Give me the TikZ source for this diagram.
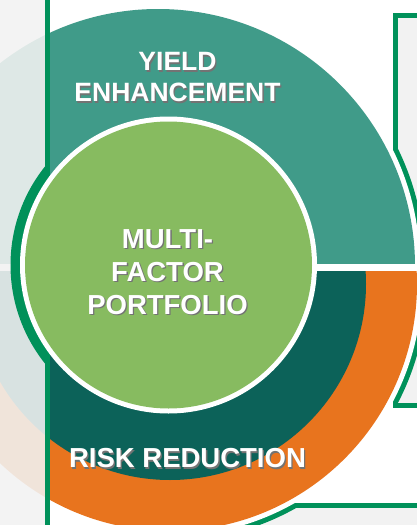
\documentclass[tikz,border=0pt]{standalone}
\usepackage{fontspec}
\setmainfont{Liberation Sans}
\definecolor{yieldcolor}{RGB}{64,155,137}
\definecolor{riskcolor}{RGB}{12,98,89}
\definecolor{hedgecolor}{RGB}{232,116,30}
\definecolor{corecolor}{RGB}{135,187,96}
\definecolor{framecolor}{RGB}{0,145,90}
\definecolor{panelcolor}{RGB}{242,242,242}
\tikzset{
    % Labels
    ringlabel/.style={
        font=\fontsize{26.5}{31}\selectfont\bfseries,
        text=white, align=center, inner sep=0pt
    },
    corelabel/.style={ringlabel, font=\fontsize{27.5}{33}\selectfont\bfseries},
    shadowlabel/.style={text=black!55},
    % Panels
    panel/.style={fill=panelcolor, draw=framecolor, line width=5pt},
    frameline/.style={draw=framecolor, line width=5pt},
}

\begin{document}
\begin{tikzpicture}[x=1pt, y=-1pt]
\useasboundingbox (0,0) rectangle (417,525);
\fill[white] (0,0) rectangle (417,525);

% Side panels
\draw[panel] (395.5,15.5) rectangle (440,405.5);
\draw[panel] (200,505.5) rectangle (440,545);

% Cut-outs round the rings
\begin{scope}
    \clip (395.5,15.5) rectangle (440,266);
    \fill[framecolor] (158,266) circle[radius=267pt];
\end{scope}
\begin{scope}
    \clip (395.5,266) rectangle (440,405.5) (200,505.5) rectangle (440,545);
    \fill[framecolor] (170,284) circle[radius=257pt];
\end{scope}
\begin{scope}
    \clip (0,0) rectangle (440,266);
    \fill[white] (158,266) circle[radius=262pt];
\end{scope}
\begin{scope}
    \clip (0,266) rectangle (440,545);
    \fill[white] (170,284) circle[radius=252pt];
\end{scope}

% Yield ring (upper half)
\begin{scope}
    \clip (0,0) rectangle (440,263);
    \fill[yieldcolor] (158,266) circle[radius=257pt];
\end{scope}

% Risk rings (lower half)
\begin{scope}
    \clip (0,271.5) rectangle (440,545);
    \fill[hedgecolor] (170,284) circle[radius=247pt];
    \fill[riskcolor] (170,284) circle[radius=196pt];
\end{scope}

% Faded left panel
\fill[panelcolor, opacity=0.89] (0,0) rectangle (45,525);
\draw[frameline] (47.5,0) -- (47.5,525);

% Core circle
\begin{scope}
    \clip (0,0) rectangle (47.5,525);
    \fill[framecolor] (168.5,265) circle[radius=158pt];
\end{scope}
\fill[white] (168.5,265) circle[radius=148.5pt];
\fill[corecolor] (168.5,265) circle[radius=143.5pt];

% Texts
\node[ringlabel, shadowlabel] (yieldshadow) at (178.8,78.8) {YIELD\\ENHANCEMENT};
\node[ringlabel] (yield) at (177.5,77.5) {YIELD\\ENHANCEMENT};

\node[corelabel, shadowlabel] (coreshadow) at (168.8,273.3) {MULTI-\\FACTOR\\PORTFOLIO};
\node[corelabel] (core) at (167.5,272) {MULTI-\\FACTOR\\PORTFOLIO};

\node[corelabel, shadowlabel] (riskshadow) at (188.8,459.8) {RISK REDUCTION};
\node[corelabel] (risk) at (187.5,458.5) {RISK REDUCTION};

\end{tikzpicture}
\end{document}
